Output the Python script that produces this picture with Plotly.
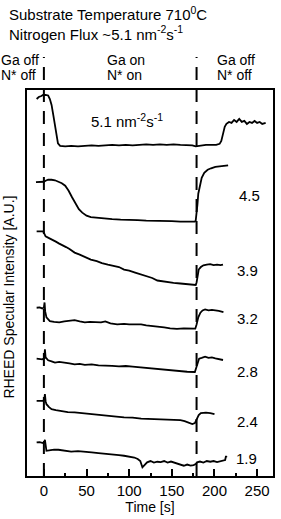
import plotly.graph_objects as go

# ---- data (time in s, intensity in arbitrary stacked units) ----
t_51 = [-8.5,-6,-3,-1,2,5,7,9,11,13,15,16.5,19,25,32,40,48,56,64,72,80,88,96,104,112,120,128,136,144,152,
        160,168,174,178,181,185,190,196,202,206,208,210,212,214,217,220,223,226,229,232,235,238,241,244,247,250,253,256,260]
v_51 = [378,380,381,382,382,381.5,378,372,362,351,340,333.5,331,330.5,331,330.5,331,331.5,331,331.5,
        332,331.5,332,331.5,332,332.5,332,332.5,332,332.5,332,332,331.5,330.5,331,331.5,332,332,332,333,
        336,343,350,353,355,354,357,355,358,355,356,353,355,354,356,354,355,353,354]

t_45 = [-9.3,-5,0,2,5,9,13,17,21,25,29,33,37,41,45,50,55,60,70,80,90,100,110,120,130,140,150,160,170,177,
        178,179,180,181,183,185,188,192,196,201,206,211,216]
v_45 = [294.7,295,295,296,297,297,296.5,295,293.5,291,286,279.5,273,267.5,264,261,259.5,259,258,257.5,
        257,257,256.5,256,256,255.5,255.5,255,255,255,256,262,272,283,292,299,304,307,308.5,310,310.5,311,311.5]

t_39 = [-8.5,-4,-1,0.5,2,6,10,14,18,22,26,30,36,42,48,55,62,68,75,82,88,94,100,107,114,120,127,133,140,146,
        152,160,168,175,178,179,180,181.5,184,187,191,195,199,203,207,210]
v_39 = [245.3,245.3,245.3,243,240.3,238.5,237,235,233,231.5,229.5,227.5,224,222,220,217,215.5,213.5,212,210.5,
        209.5,207,206,204,202,200.5,198.5,196,195,194.5,193.7,193,192.5,192,191.5,194,202,207,209.5,211.3,
        212,212.5,211.5,212,211.5,212]

t_32 = [-8.5,-5,-2,0,0.8,1.5,3,7,12,18,24,30,36,42,48,54,60,67,72,78,86,94,100,107,114,120,127,134,141,148,
        156,164,172,177.5,179,181,183.5,186,189,193,197,201,205,210.5]
v_32 = [168.7,169,168,169,174,165,159,155.3,154.5,154,155,155.5,156.3,155,154,154.5,154,154,155,153,
        152,152.5,152,152,152,151,150.5,149.5,149,148,147.5,148,147.7,147.7,152,159,163.7,166,167,166,
        166.5,166.3,165.5,164.3]

t_28 = [-8.5,-5,-2,0.5,1.2,2,5,9,13,18,24,30,36,42,48,56,64,72,80,88,96,104,112,120,128,136,144,152,160,168,
        177,178.5,180,182,185,189,193,197,201,205,210]
v_28 = [117.7,117.5,117,118,127,119,116,115,113.7,114.5,114,113,112,112.5,111.5,112,111,111,110.5,110,
        110.3,109.7,109,108.5,108,107,106.5,106,105.5,104.5,104.3,109,114,117.7,118.5,119.7,118.5,119,118,117.5,116.3]

t_24 = [-8.5,-5,-1,0.5,1.2,2,3,6,9,14,20,28,36,45,55,65,75,85,94,104,114,124,133,142,152,160,165,170,174,177,
        179.5,181.5,184,190,195,200]
v_24 = [75.3,75.5,75.3,77,82,75,72,69,67,66,65,64,63.7,63,62,61.5,61,59.5,58.7,58.5,
        57.5,57.3,57,56.5,56,56,55,53,52,53,57,61,63,63.5,63,62]

t_19 = [-8.5,-5,-1,0.5,1.2,2,3,8,12,17,24,32,40,48,56,64,72,80,88,94,100,106,110,113,115.5,118,121,125,129,133,
        137,141,145,149,152,156,160,164,168,172,175.5,178,179.5,183,187,191,195,199,203,207,210.5,212.5,213.5,214.3]
v_19 = [33.7,34,33,34,36.3,30,25.3,26,26.5,26.3,25.5,24.5,25,24,23.7,23,22.5,21.5,21,20.3,
        19.5,18.5,17,15,8.7,11,13.7,15,13.5,14.3,14,15,13.5,14.5,13.7,12.5,12,10.3,11.5,10.5,
        11,12,13.7,14.5,13.5,15,14.3,15,14,15,15.3,16,20,18.7]

series = [(t_51, v_51), (t_45, v_45), (t_39, v_39), (t_32, v_32), (t_28, v_28), (t_24, v_24), (t_19, v_19)]

flux_labels = ["4.5", "3.9", "3.2", "2.8", "2.4", "1.9"]
flux_label_t = [241, 239, 239, 239, 239, 237]
flux_label_v = [281, 206, 158, 104.5, 54.5, 18]

x_ticks = [0, 50, 100, 150, 200, 250]
x_minor = [25, 75, 125, 175, 225]
shutter_times = [0, 179]

FONT = "Liberation Sans, Arial, sans-serif"

fig = go.Figure()
for t, v in series:
    fig.add_trace(go.Scatter(x=t, y=v, mode="lines", line=dict(color="black", width=1.8),
                             hoverinfo="skip", showlegend=False))

Y_MAX = 387
for ts in shutter_times:
    fig.add_shape(type="line", xref="x", yref="paper", x0=ts, x1=ts, y0=0, y1=(477 - 57) / Y_MAX,
                  line=dict(color="black", width=2, dash="13px,9px"))

ann = []
for lab, tx, vy in zip(flux_labels, flux_label_t, flux_label_v):
    ann.append(dict(x=tx, y=vy, xref="x", yref="y", text=lab, showarrow=False,
                    font=dict(size=15, color="black", family=FONT)))
ann.append(dict(x=97, y=356, xref="x", yref="y", text="5.1 nm<sup>-2</sup>s<sup>-1</sup>", showarrow=False,
                font=dict(size=15, color="black", family=FONT)))

def hdr(txt, xpx, ypx, size=14, yanchor="middle"):
    return dict(x=(xpx - 27) / 248, y=(477 - ypx) / Y_MAX, xref="paper", yref="paper", text=txt,
                showarrow=False, xanchor="left", yanchor=yanchor, align="left",
                font=dict(size=size, color="black", family=FONT))

ann += [
    hdr("Substrate Temperature 710<sup>0</sup>C<br>Nitrogen Flux ~5.1 nm<sup>-2</sup>s<sup>-1</sup>",
        7, 23.5, size=15),
    hdr("Ga off", -1, 60),
    hdr("N* off", -1, 75),
    hdr("Ga on", 106, 60),
    hdr("N* on", 106, 75),
    hdr("Ga off", 217, 60),
    hdr("N* off", 217, 75),
    dict(x=(9 - 27) / 248, y=(477 - 298) / Y_MAX, xref="paper", yref="paper",
         text="RHEED Specular Intensity [A.U.]", textangle=-90, showarrow=False,
         xanchor="center", yanchor="middle", font=dict(size=14, color="black", family=FONT)),
]

fig.update_layout(
    width=281, height=519,
    margin=dict(l=27, r=6, t=90, b=42),
    paper_bgcolor="white", plot_bgcolor="white",
    annotations=ann,
    xaxis=dict(range=[-19.8, 268.6], tickvals=x_ticks, ticks="inside", ticklen=7, tickwidth=2,
               tickcolor="black", showline=True, linecolor="black", linewidth=2, mirror=True,
               showgrid=False, zeroline=False,
               minor=dict(tickvals=x_minor, ticks="inside", ticklen=3, tickwidth=2,
                          tickcolor="black", showgrid=False),
               tickfont=dict(size=15, color="black", family=FONT),
               title=dict(text="Time [s]", font=dict(size=14, color="black", family=FONT), standoff=4)),
    yaxis=dict(range=[0, Y_MAX], showticklabels=False, ticks="", showline=True, linecolor="black",
               linewidth=2, mirror=True, showgrid=False, zeroline=False),
)

fig.write_html("out.html")
